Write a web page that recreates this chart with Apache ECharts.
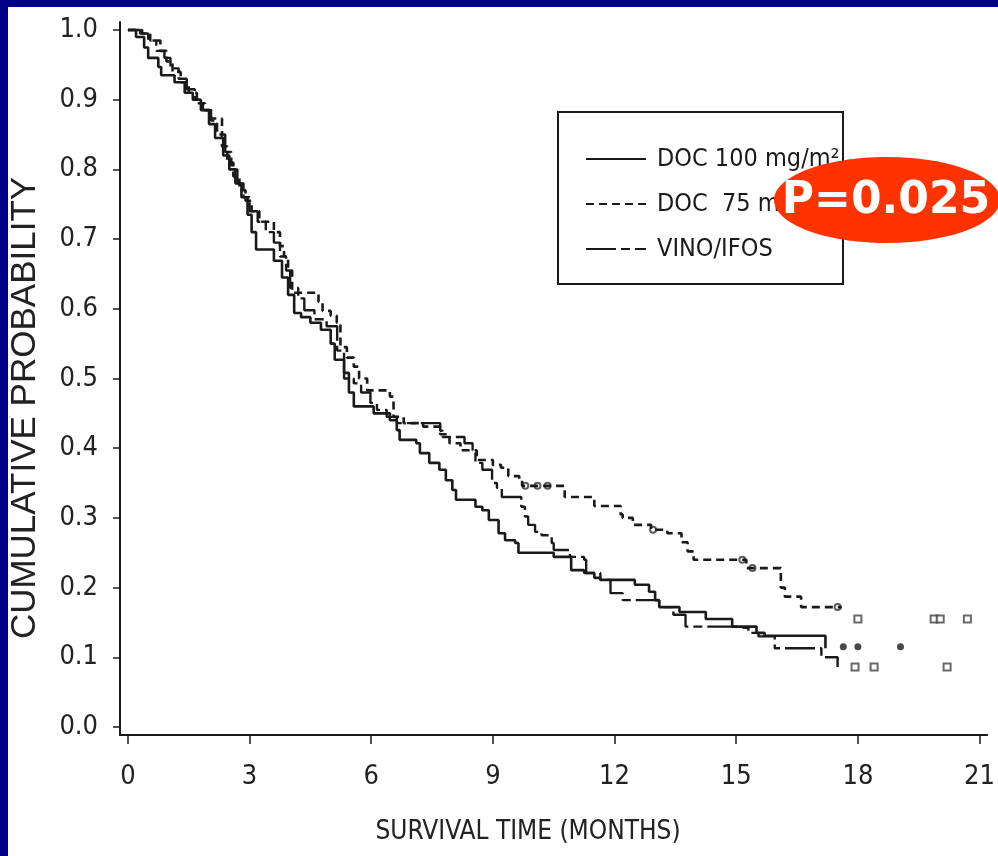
<!DOCTYPE html>
<html>
<head>
<meta charset="utf-8">
<title>Survival curves</title>
<script src="https://cdn.jsdelivr.net/npm/echarts@6/dist/echarts.min.js"></script>
<style>
  html, body { margin: 0; padding: 0; background: #000088; overflow: hidden; }
  #chart { position: absolute; left: 8px; top: 7px; width: 990px; height: 849px; background: #ffffff; }
</style>
</head>
<body>
<div id="chart"></div>
<script>
// series names as in the legend
const seriesNames = ['DOC 100 mg/m\u00B2', 'DOC  75 mg/m\u00B2', 'VINO/IFOS'];

// Kaplan-Meier steps [months, probability]
const doc100 = [
  [0, 1.0], [0.2, 0.99], [0.4, 0.975], [0.5, 0.96], [0.75, 0.947], [0.82, 0.935],
  [1.15, 0.925], [1.4, 0.91], [1.6, 0.9], [1.8, 0.885], [2.0, 0.865], [2.15, 0.845],
  [2.35, 0.82], [2.5, 0.8], [2.65, 0.78], [2.8, 0.76], [2.95, 0.735], [3.05, 0.71],
  [3.16, 0.685], [3.6, 0.669], [3.8, 0.645], [3.95, 0.62], [4.1, 0.594], [4.27, 0.588],
  [4.5, 0.58], [4.76, 0.57], [5.0, 0.55], [5.1, 0.527], [5.33, 0.508], [5.45, 0.48],
  [5.57, 0.46], [6.06, 0.45], [6.46, 0.44], [6.63, 0.426], [6.7, 0.412], [7.11, 0.407],
  [7.2, 0.393], [7.43, 0.379], [7.68, 0.369], [7.84, 0.354], [8.0, 0.34], [8.09, 0.326],
  [8.57, 0.316], [8.74, 0.311], [8.9, 0.297], [9.14, 0.278], [9.3, 0.268], [9.55, 0.264],
  [9.63, 0.25], [10.5, 0.244], [10.93, 0.225], [11.25, 0.221], [11.5, 0.214], [11.65, 0.211],
  [12.5, 0.204], [12.85, 0.194], [13.0, 0.182], [13.1, 0.172], [13.6, 0.165], [14.25, 0.155],
  [14.9, 0.144], [15.5, 0.135], [15.7, 0.131], [17.2, 0.131], [17.2, 0.113]
];
const doc75 = [
  [0, 1.0], [0.35, 0.995], [0.55, 0.985], [0.8, 0.97], [0.95, 0.955], [1.1, 0.94],
  [1.3, 0.925], [1.5, 0.91], [1.7, 0.895], [1.9, 0.885], [2.05, 0.873], [2.32, 0.833],
  [2.45, 0.81], [2.6, 0.79], [2.75, 0.77], [2.9, 0.755], [3.05, 0.74], [3.24, 0.725],
  [3.6, 0.71], [3.75, 0.69], [3.85, 0.675], [3.95, 0.655], [4.05, 0.623], [4.7, 0.61],
  [4.8, 0.597], [5.0, 0.59], [5.15, 0.58], [5.24, 0.545], [5.4, 0.53], [5.57, 0.517],
  [5.7, 0.5], [5.9, 0.483], [6.46, 0.474], [6.55, 0.445], [6.8, 0.436], [7.28, 0.431],
  [7.7, 0.42], [7.93, 0.407], [8.2, 0.397], [8.6, 0.383], [9.0, 0.376], [9.2, 0.372],
  [9.38, 0.36], [9.65, 0.354], [9.72, 0.346], [10.77, 0.33], [11.5, 0.317], [12.15, 0.305],
  [12.2, 0.3], [12.45, 0.29], [12.9, 0.283], [13.3, 0.278], [13.65, 0.265], [13.8, 0.252],
  [13.95, 0.24], [15.25, 0.228], [16.1, 0.2], [16.2, 0.187], [16.6, 0.172], [17.6, 0.172]
];
const vinoIfos = [
  [0, 1.0], [0.3, 0.995], [0.5, 0.985], [0.7, 0.97], [0.9, 0.96], [1.05, 0.945],
  [1.25, 0.93], [1.45, 0.915], [1.65, 0.9], [1.85, 0.885], [2.05, 0.87], [2.2, 0.85],
  [2.4, 0.825], [2.55, 0.8], [2.7, 0.78], [2.85, 0.76], [3.0, 0.74], [3.2, 0.725],
  [3.4, 0.71], [3.6, 0.695], [3.75, 0.675], [3.9, 0.655], [4.0, 0.63], [4.2, 0.615],
  [4.35, 0.598], [4.6, 0.585], [4.9, 0.575], [5.16, 0.54], [5.33, 0.5], [5.57, 0.493],
  [5.75, 0.48], [5.98, 0.465], [6.14, 0.455], [6.38, 0.445], [6.63, 0.436], [7.7, 0.425],
  [7.76, 0.416], [8.3, 0.407], [8.5, 0.397], [8.57, 0.379], [8.74, 0.369], [8.98, 0.35],
  [9.1, 0.343], [9.22, 0.33], [9.7, 0.316], [9.79, 0.302], [9.87, 0.29], [10.04, 0.28],
  [10.2, 0.275], [10.45, 0.264], [10.5, 0.254], [10.9, 0.244], [11.25, 0.24], [11.3, 0.221],
  [11.65, 0.211], [11.9, 0.192], [12.2, 0.182], [13.1, 0.172], [13.45, 0.161], [13.75, 0.144],
  [14.9, 0.142], [15.3, 0.135], [15.55, 0.13], [15.95, 0.113], [17.1, 0.1], [17.5, 0.086]
];

// censored observations
const doc75OnLine = [[9.8, 0.346], [10.1, 0.346], [10.35, 0.346], [12.95, 0.283], [15.15, 0.24], [15.4, 0.228], [17.5, 0.172]];
const doc75Late = [[18.0, 0.155], [19.88, 0.155], [20.03, 0.155], [20.7, 0.155]];
const doc100Late = [[17.64, 0.115], [18.0, 0.115], [19.05, 0.115]];
const vinoLate = [[17.93, 0.086], [18.4, 0.086], [20.2, 0.086]];

// axis ticks
const xTicks = [0, 3, 6, 9, 12, 15, 18, 21];
const yTicks = [0, 0.1, 0.2, 0.3, 0.4, 0.5, 0.6, 0.7, 0.8, 0.9, 1.0];

const narrow = '"DejaVu Sans Condensed", "Liberation Sans", sans-serif';
const ink = '#1a1a1a';

const chart = echarts.init(document.getElementById('chart'));

const option = {
  animation: false,
  grid: { left: 112, right: 0, top: 15, bottom: 121, containLabel: false },
  xAxis: {
    type: 'value',
    min: -0.195,
    max: 21.19,
    axisLine: { show: true, onZero: false, lineStyle: { color: ink, width: 2 } },
    axisTick: { show: true, customValues: xTicks, length: 9, lineStyle: { color: ink, width: 1.5 } },
    axisLabel: { customValues: xTicks, margin: 28, color: '#222', fontFamily: narrow, fontSize: 27 },
    splitLine: { show: false }
  },
  yAxis: {
    type: 'value',
    min: -0.0115,
    max: 1.0115,
    axisLine: { show: true, onZero: false, lineStyle: { color: ink, width: 2 } },
    axisTick: { show: true, customValues: yTicks, length: 7, lineStyle: { color: ink, width: 1.5 } },
    axisLabel: {
      customValues: yTicks, margin: 22, color: '#222', fontFamily: narrow, fontSize: 27,
      formatter: v => v.toFixed(1)
    },
    splitLine: { show: false }
  },
  legend: {
    data: seriesNames,
    orient: 'vertical',
    left: 572,
    top: 132,
    itemWidth: 60,
    itemHeight: 14,
    itemGap: 15,
    selectedMode: false,
    itemStyle: { opacity: 0 },
    textStyle: { fontFamily: narrow, fontSize: 25, lineHeight: 30, color: ink, padding: [0, 0, 0, 6] }
  },
  series: [
    {
      name: seriesNames[0], type: 'line', step: 'end', data: doc100, symbol: 'none',
      itemStyle: { color: ink },
      lineStyle: { color: ink, width: 2.6, type: 'solid' }
    },
    {
      name: seriesNames[1], type: 'line', step: 'end', data: doc75, symbol: 'none',
      itemStyle: { color: ink },
      lineStyle: { color: ink, width: 2.6, type: [8, 5] }
    },
    {
      name: seriesNames[2], type: 'line', step: 'end', data: vinoIfos, symbol: 'none',
      itemStyle: { color: ink },
      lineStyle: { color: ink, width: 2.4, type: [30, 5, 9, 5] }
    },
    {
      type: 'scatter', data: doc75OnLine, symbol: 'emptyCircle', symbolSize: 6,
      itemStyle: { color: '#333', borderWidth: 1.5 }
    },
    {
      type: 'scatter', data: doc75Late, symbol: 'emptyRect', symbolSize: 7,
      itemStyle: { color: '#444', borderWidth: 1.5 }
    },
    {
      type: 'scatter', data: doc100Late, symbol: 'circle', symbolSize: 7,
      itemStyle: { color: ink }
    },
    {
      type: 'scatter', data: vinoLate, symbol: 'emptyRect', symbolSize: 7,
      itemStyle: { color: '#444', borderWidth: 1.5 }
    }
  ],
  graphic: [
    {
      type: 'rect', z: 1,
      shape: { x: 550, y: 105, width: 285, height: 172 },
      style: { fill: 'none', stroke: ink, lineWidth: 2 }
    },
    {
      type: 'text', z: 1, x: 17, y: 401, rotation: Math.PI / 2,
      style: {
        text: 'CUMULATIVE PROBABILITY', fill: '#222',
        font: '35px "Liberation Sans", Arial, sans-serif',
        align: 'center', verticalAlign: 'middle', textAlign: 'center', textVerticalAlign: 'middle'
      }
    },
    {
      type: 'text', z: 1, x: 520, y: 825,
      style: {
        text: 'SURVIVAL TIME (MONTHS)', fill: '#222',
        font: '26px "DejaVu Sans Condensed", "Liberation Sans", sans-serif',
        align: 'center', verticalAlign: 'middle', textAlign: 'center', textVerticalAlign: 'middle'
      }
    },
    {
      type: 'ellipse', z: 100,
      shape: { cx: 879, cy: 193, rx: 113, ry: 43 },
      style: { fill: '#ff3300' }
    },
    {
      type: 'text', z: 101, x: 878, y: 195,
      style: {
        text: 'P=0.025', fill: '#ffffff',
        font: 'bold 44px "DejaVu Sans", Verdana, sans-serif',
        align: 'center', verticalAlign: 'middle', textAlign: 'center', textVerticalAlign: 'middle'
      }
    }
  ]
};

chart.setOption(option);
</script>
</body>
</html>
